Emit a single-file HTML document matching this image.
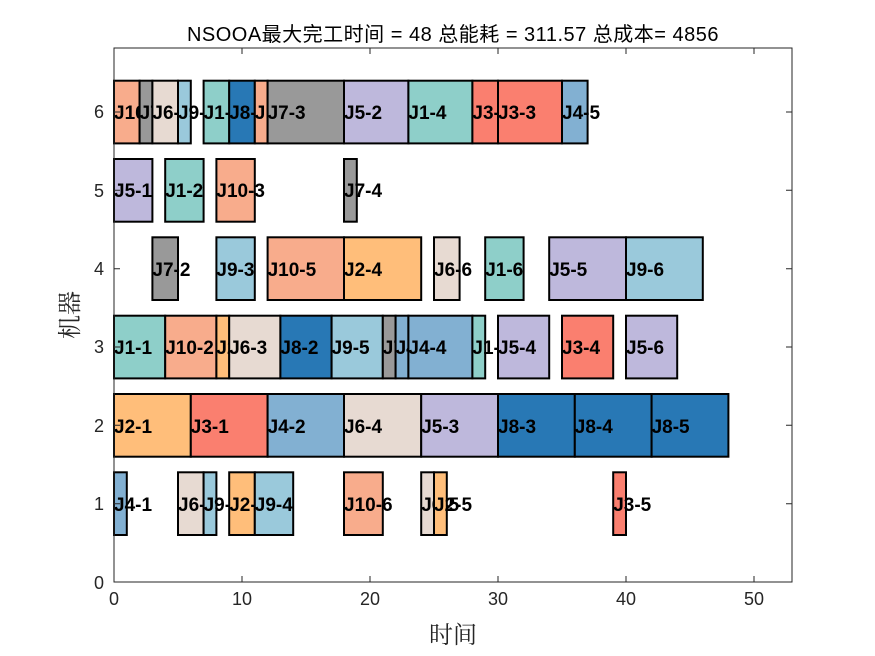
<!DOCTYPE html>
<html><head><meta charset="utf-8"><style>
body{margin:0;background:#fff}
svg{display:block}
.b text{font:bold 19px "Liberation Sans",Arial,sans-serif;fill:#000}
.b rect{stroke:#000;stroke-width:2}
.t{font:18px "Liberation Sans",sans-serif;fill:#262626}
</style></head><body>
<svg width="875" height="656" viewBox="0 0 875 656" xmlns="http://www.w3.org/2000/svg">
<rect width="875" height="656" fill="#fff"/>
<text x="453" y="41" text-anchor="middle" style="font:20px 'Liberation Sans','Noto Sans CJK SC',sans-serif;fill:#000;letter-spacing:0.5px">NSOOA最大完工时间 = 48 总能耗 = 311.57 总成本= 4856</text>
<g class="b">
<!-- row 6 -->
<rect x="114" y="80.7" width="25.6" height="62.7" fill="#F8AC8C"/><text x="114" y="119">J10-1</text>
<rect x="139.6" y="80.7" width="12.8" height="62.7" fill="#999999"/><text x="139.6" y="119">J7-1</text>
<rect x="152.4" y="80.7" width="25.6" height="62.7" fill="#E7DAD2"/><text x="152.4" y="119">J6-1</text>
<rect x="178" y="80.7" width="12.8" height="62.7" fill="#9AC9DB"/><text x="178" y="119">J9-1</text>
<rect x="203.6" y="80.7" width="25.6" height="62.7" fill="#8ECFC9"/><text x="203.6" y="119">J1-3</text>
<rect x="229.2" y="80.7" width="25.6" height="62.7" fill="#2878B5"/><text x="229.2" y="119">J8-1</text>
<rect x="254.8" y="80.7" width="12.8" height="62.7" fill="#F8AC8C"/><text x="254.8" y="119">J10-4</text>
<rect x="267.6" y="80.7" width="76.4" height="62.7" fill="#999999"/><text x="267.6" y="119">J7-3</text>
<rect x="344" y="80.7" width="64.4" height="62.7" fill="#BEB8DC"/><text x="344" y="119">J5-2</text>
<rect x="408.4" y="80.7" width="64" height="62.7" fill="#8ECFC9"/><text x="408.4" y="119">J1-4</text>
<rect x="472.4" y="80.7" width="25.6" height="62.7" fill="#FA7F6F"/><text x="472.4" y="119">J3-2</text>
<rect x="498" y="80.7" width="64" height="62.7" fill="#FA7F6F"/><text x="498" y="119">J3-3</text>
<rect x="562" y="80.7" width="25.6" height="62.7" fill="#82B0D2"/><text x="562" y="119">J4-5</text>
<!-- row 5 -->
<rect x="114" y="159" width="38.4" height="62.7" fill="#BEB8DC"/><text x="114" y="197">J5-1</text>
<rect x="165.2" y="159" width="38.4" height="62.7" fill="#8ECFC9"/><text x="165.2" y="197">J1-2</text>
<rect x="216.4" y="159" width="38.4" height="62.7" fill="#F8AC8C"/><text x="216.4" y="197">J10-3</text>
<rect x="344" y="159" width="12.8" height="62.7" fill="#999999"/><text x="344" y="197">J7-4</text>
<!-- row 4 -->
<rect x="152.4" y="237.3" width="25.6" height="62.7" fill="#999999"/><text x="152.4" y="276">J7-2</text>
<rect x="216.4" y="237.3" width="38.4" height="62.7" fill="#9AC9DB"/><text x="216.4" y="276">J9-3</text>
<rect x="267.6" y="237.3" width="76.4" height="62.7" fill="#F8AC8C"/><text x="267.6" y="276">J10-5</text>
<rect x="344" y="237.3" width="77.2" height="62.7" fill="#FFBE7A"/><text x="344" y="276">J2-4</text>
<rect x="434" y="237.3" width="25.6" height="62.7" fill="#E7DAD2"/><text x="434" y="276">J6-6</text>
<rect x="485.2" y="237.3" width="38.4" height="62.7" fill="#8ECFC9"/><text x="485.2" y="276">J1-6</text>
<rect x="549.2" y="237.3" width="76.8" height="62.7" fill="#BEB8DC"/><text x="549.2" y="276">J5-5</text>
<rect x="626" y="237.3" width="76.8" height="62.7" fill="#9AC9DB"/><text x="626" y="276">J9-6</text>
<!-- row 3 -->
<rect x="114" y="315.7" width="51.2" height="62.7" fill="#8ECFC9"/><text x="114" y="354">J1-1</text>
<rect x="165.2" y="315.7" width="51.2" height="62.7" fill="#F8AC8C"/><text x="165.2" y="354">J10-2</text>
<rect x="216.4" y="315.7" width="12.8" height="62.7" fill="#FFBE7A"/><text x="216.4" y="354">J2-2</text>
<rect x="229.2" y="315.7" width="51.2" height="62.7" fill="#E7DAD2"/><text x="229.2" y="354">J6-3</text>
<rect x="280.4" y="315.7" width="51.2" height="62.7" fill="#2878B5"/><text x="280.4" y="354">J8-2</text>
<rect x="331.6" y="315.7" width="51.2" height="62.7" fill="#9AC9DB"/><text x="331.6" y="354">J9-5</text>
<rect x="382.8" y="315.7" width="12.8" height="62.7" fill="#999999"/><text x="382.8" y="354">J7-5</text>
<rect x="395.6" y="315.7" width="12.8" height="62.7" fill="#82B0D2"/><text x="395.6" y="354">J4-3</text>
<rect x="408.4" y="315.7" width="64" height="62.7" fill="#82B0D2"/><text x="408.4" y="354">J4-4</text>
<rect x="472.4" y="315.7" width="12.8" height="62.7" fill="#8ECFC9"/><text x="472.4" y="354">J1-5</text>
<rect x="498" y="315.7" width="51.2" height="62.7" fill="#BEB8DC"/><text x="498" y="354">J5-4</text>
<rect x="562" y="315.7" width="51.2" height="62.7" fill="#FA7F6F"/><text x="562" y="354">J3-4</text>
<rect x="626" y="315.7" width="51.2" height="62.7" fill="#BEB8DC"/><text x="626" y="354">J5-6</text>
<!-- row 2 -->
<rect x="114" y="394" width="76.8" height="62.7" fill="#FFBE7A"/><text x="114" y="433">J2-1</text>
<rect x="190.8" y="394" width="76.8" height="62.7" fill="#FA7F6F"/><text x="190.8" y="433">J3-1</text>
<rect x="267.6" y="394" width="76.4" height="62.7" fill="#82B0D2"/><text x="267.6" y="433">J4-2</text>
<rect x="344" y="394" width="77.2" height="62.7" fill="#E7DAD2"/><text x="344" y="433">J6-4</text>
<rect x="421.2" y="394" width="76.8" height="62.7" fill="#BEB8DC"/><text x="421.2" y="433">J5-3</text>
<rect x="498" y="394" width="76.8" height="62.7" fill="#2878B5"/><text x="498" y="433">J8-3</text>
<rect x="574.8" y="394" width="76.8" height="62.7" fill="#2878B5"/><text x="574.8" y="433">J8-4</text>
<rect x="651.6" y="394" width="76.8" height="62.7" fill="#2878B5"/><text x="651.6" y="433">J8-5</text>
<!-- row 1 -->
<rect x="114" y="472.3" width="12.8" height="62.7" fill="#82B0D2"/><text x="114" y="511">J4-1</text>
<rect x="178" y="472.3" width="25.6" height="62.7" fill="#E7DAD2"/><text x="178" y="511">J6-2</text>
<rect x="203.6" y="472.3" width="12.8" height="62.7" fill="#9AC9DB"/><text x="203.6" y="511">J9-2</text>
<rect x="229.2" y="472.3" width="25.6" height="62.7" fill="#FFBE7A"/><text x="229.2" y="511">J2-3</text>
<rect x="254.8" y="472.3" width="38.4" height="62.7" fill="#9AC9DB"/><text x="254.8" y="511">J9-4</text>
<rect x="344" y="472.3" width="38.8" height="62.7" fill="#F8AC8C"/><text x="344" y="511">J10-6</text>
<rect x="421.2" y="472.3" width="12.8" height="62.7" fill="#E7DAD2"/><text x="421.2" y="511">J6-5</text>
<rect x="434" y="472.3" width="12.8" height="62.7" fill="#FFBE7A"/><text x="434" y="511">J2-5</text>
<rect x="613.2" y="472.3" width="12.8" height="62.7" fill="#FA7F6F"/><text x="613.2" y="511">J3-5</text>
</g>
<!-- axes -->
<g stroke="#262626" stroke-width="1" fill="none">
<rect x="114" y="48" width="678" height="534"/>
<path d="M114 582v-6M242 582v-6M370 582v-6M498 582v-6M626 582v-6M754 582v-6M114 48v6M242 48v6M370 48v6M498 48v6M626 48v6M754 48v6"/>
<path d="M114 582h6M114 503.7h6M114 425.3h6M114 347h6M114 268.7h6M114 190.3h6M114 112h6M792 582h-6M792 503.7h-6M792 425.3h-6M792 347h-6M792 268.7h-6M792 190.3h-6M792 112h-6"/>
</g>
<g class="t" text-anchor="middle">
<text x="114" y="605">0</text><text x="242" y="605">10</text><text x="370" y="605">20</text><text x="498" y="605">30</text><text x="626" y="605">40</text><text x="754" y="605">50</text>
</g>
<g class="t" text-anchor="end">
<text x="104" y="589">0</text><text x="104" y="510">1</text><text x="104" y="432">2</text><text x="104" y="353">3</text><text x="104" y="275">4</text><text x="104" y="197">5</text><text x="104" y="118">6</text>
</g>
<text x="453" y="643" text-anchor="middle" style="font:24px 'Noto Serif CJK SC','Noto Sans CJK SC',serif;fill:#262626">时间</text>
<text transform="translate(78,315) rotate(-90)" text-anchor="middle" style="font:24px 'Noto Serif CJK SC','Noto Sans CJK SC',serif;fill:#262626">机器</text>
</svg>
</body></html>
